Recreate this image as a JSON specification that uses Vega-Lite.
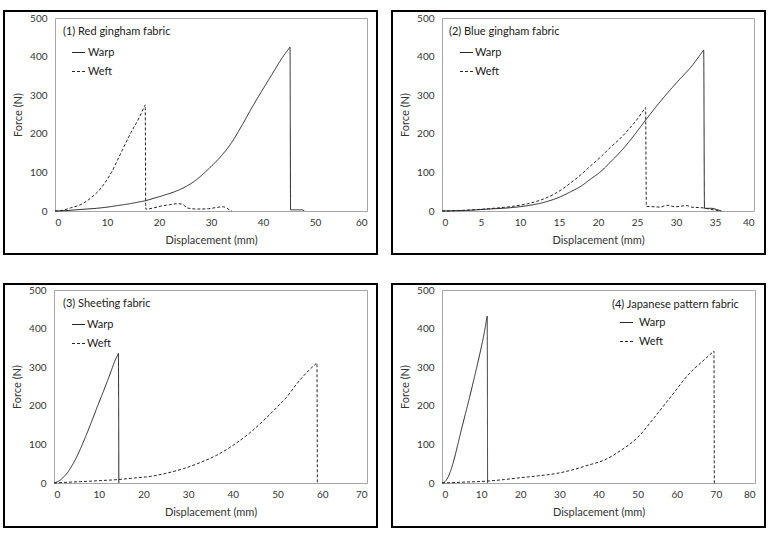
{
  "$schema": "https://vega.github.io/schema/vega-lite/v6.json",
  "background": "white",
  "padding": {"left": 3, "top": 10, "right": 0, "bottom": 0},
  "bounds": "flush",
  "columns": 2,
  "spacing": {"row": 30, "column": 15},
  "resolve": {"scale": {"strokeDash": "independent"}, "legend": {"strokeDash": "independent"}},
  "config": {
    "font": "Lato",
    "view": {"stroke": "#000000", "strokeWidth": 2},
    "axis": {"grid": false, "ticks": false, "domainColor": "#a6a6a6", "domainWidth": 1, "labelFont": "Lato", "labelFontSize": 10, "labelColor": "#333333", "titleFont": "Lato", "titleFontSize": 11, "titleFontWeight": "normal", "titleColor": "#333333"},
    "legend": {"padding": 0, "direction": "vertical", "titleFont": "Lato", "titleFontSize": 11, "titleFontWeight": "normal", "titleColor": "#1a1a1a", "labelFont": "Lato", "labelFontSize": 11, "labelColor": "#1a1a1a", "symbolType": "stroke", "symbolSize": 169, "symbolStrokeWidth": 1.2, "symbolStrokeColor": "#262626", "rowPadding": 6, "titlePadding": 8, "titleLimit": 300}
  },
  "datasets": {
    "p1": [
      {"series": "Warp", "x": 0, "y": 0}, {"series": "Warp", "x": 2, "y": 1}, {"series": "Warp", "x": 4, "y": 3}, {"series": "Warp", "x": 6, "y": 5}, {"series": "Warp", "x": 8, "y": 7}, {"series": "Warp", "x": 10, "y": 10}, {"series": "Warp", "x": 12, "y": 14}, {"series": "Warp", "x": 14, "y": 18}, {"series": "Warp", "x": 16, "y": 23}, {"series": "Warp", "x": 17.5, "y": 27}, {"series": "Warp", "x": 19, "y": 33}, {"series": "Warp", "x": 21, "y": 41}, {"series": "Warp", "x": 23, "y": 50}, {"series": "Warp", "x": 25, "y": 62}, {"series": "Warp", "x": 27, "y": 79}, {"series": "Warp", "x": 28.5, "y": 96}, {"series": "Warp", "x": 30, "y": 115}, {"series": "Warp", "x": 32, "y": 143}, {"series": "Warp", "x": 34, "y": 178}, {"series": "Warp", "x": 36, "y": 223}, {"series": "Warp", "x": 38, "y": 271}, {"series": "Warp", "x": 40, "y": 316}, {"series": "Warp", "x": 42, "y": 360}, {"series": "Warp", "x": 44, "y": 403}, {"series": "Warp", "x": 45, "y": 421}, {"series": "Warp", "x": 45.2, "y": 425}, {"series": "Warp", "x": 45.3, "y": 3}, {"series": "Warp", "x": 46.5, "y": 3}, {"series": "Warp", "x": 47.7, "y": 3}, {"series": "Warp", "x": 47.9, "y": 0},
      {"series": "Weft", "x": 0, "y": 0}, {"series": "Weft", "x": 1.5, "y": 2}, {"series": "Weft", "x": 3, "y": 8}, {"series": "Weft", "x": 5, "y": 17}, {"series": "Weft", "x": 7, "y": 35}, {"series": "Weft", "x": 9, "y": 62}, {"series": "Weft", "x": 10.8, "y": 99}, {"series": "Weft", "x": 12.7, "y": 151}, {"series": "Weft", "x": 14.6, "y": 203}, {"series": "Weft", "x": 16.2, "y": 242}, {"series": "Weft", "x": 17.2, "y": 271}, {"series": "Weft", "x": 17.35, "y": 275}, {"series": "Weft", "x": 17.45, "y": 5}, {"series": "Weft", "x": 19, "y": 8}, {"series": "Weft", "x": 20.4, "y": 13}, {"series": "Weft", "x": 22, "y": 16}, {"series": "Weft", "x": 23.6, "y": 19}, {"series": "Weft", "x": 24.6, "y": 17}, {"series": "Weft", "x": 25.4, "y": 8}, {"series": "Weft", "x": 27.4, "y": 5}, {"series": "Weft", "x": 29.5, "y": 6}, {"series": "Weft", "x": 31, "y": 9}, {"series": "Weft", "x": 32.2, "y": 11}, {"series": "Weft", "x": 33, "y": 8}, {"series": "Weft", "x": 33.5, "y": 3}, {"series": "Weft", "x": 34, "y": 0}
    ],
    "p2": [
      {"series": "Warp", "x": 0, "y": 0}, {"series": "Warp", "x": 3, "y": 1.5}, {"series": "Warp", "x": 6, "y": 5}, {"series": "Warp", "x": 9, "y": 9}, {"series": "Warp", "x": 11, "y": 14}, {"series": "Warp", "x": 13, "y": 22}, {"series": "Warp", "x": 14.3, "y": 30}, {"series": "Warp", "x": 15.3, "y": 38}, {"series": "Warp", "x": 16.5, "y": 50}, {"series": "Warp", "x": 17.8, "y": 64}, {"series": "Warp", "x": 19, "y": 82}, {"series": "Warp", "x": 20.4, "y": 103}, {"series": "Warp", "x": 21.6, "y": 127}, {"series": "Warp", "x": 22.9, "y": 154}, {"series": "Warp", "x": 24, "y": 180}, {"series": "Warp", "x": 25, "y": 206}, {"series": "Warp", "x": 26.2, "y": 238}, {"series": "Warp", "x": 28, "y": 284}, {"series": "Warp", "x": 30.1, "y": 333}, {"series": "Warp", "x": 32.2, "y": 380}, {"series": "Warp", "x": 33.4, "y": 413}, {"series": "Warp", "x": 33.55, "y": 417}, {"series": "Warp", "x": 33.65, "y": 7}, {"series": "Warp", "x": 34.5, "y": 7}, {"series": "Warp", "x": 35.2, "y": 4}, {"series": "Warp", "x": 35.8, "y": 0},
      {"series": "Weft", "x": 0, "y": 0}, {"series": "Weft", "x": 3, "y": 2}, {"series": "Weft", "x": 6, "y": 6}, {"series": "Weft", "x": 9, "y": 12}, {"series": "Weft", "x": 11, "y": 19}, {"series": "Weft", "x": 13, "y": 31}, {"series": "Weft", "x": 14.3, "y": 43}, {"series": "Weft", "x": 15.3, "y": 55}, {"series": "Weft", "x": 16.5, "y": 73}, {"series": "Weft", "x": 17.8, "y": 94}, {"series": "Weft", "x": 19, "y": 116}, {"series": "Weft", "x": 20.4, "y": 141}, {"series": "Weft", "x": 21.6, "y": 165}, {"series": "Weft", "x": 22.9, "y": 189}, {"series": "Weft", "x": 24, "y": 213}, {"series": "Weft", "x": 25, "y": 237}, {"series": "Weft", "x": 25.95, "y": 264}, {"series": "Weft", "x": 26.1, "y": 268}, {"series": "Weft", "x": 26.2, "y": 12}, {"series": "Weft", "x": 27.2, "y": 11}, {"series": "Weft", "x": 28, "y": 10}, {"series": "Weft", "x": 28.8, "y": 15}, {"series": "Weft", "x": 29.9, "y": 11}, {"series": "Weft", "x": 31.4, "y": 14}, {"series": "Weft", "x": 32, "y": 10}, {"series": "Weft", "x": 33.5, "y": 8}, {"series": "Weft", "x": 34.5, "y": 4}, {"series": "Weft", "x": 35.8, "y": 0}
    ],
    "p3": [
      {"series": "Warp", "x": 0, "y": 0}, {"series": "Warp", "x": 0.7, "y": 3}, {"series": "Warp", "x": 1.34, "y": 7}, {"series": "Warp", "x": 2, "y": 14}, {"series": "Warp", "x": 2.83, "y": 24}, {"series": "Warp", "x": 3.5, "y": 35}, {"series": "Warp", "x": 4.32, "y": 51}, {"series": "Warp", "x": 5.5, "y": 78}, {"series": "Warp", "x": 6.56, "y": 106}, {"series": "Warp", "x": 7.7, "y": 138}, {"series": "Warp", "x": 8.8, "y": 171}, {"series": "Warp", "x": 9.9, "y": 204}, {"series": "Warp", "x": 11, "y": 236}, {"series": "Warp", "x": 12, "y": 266}, {"series": "Warp", "x": 12.9, "y": 294}, {"series": "Warp", "x": 13.6, "y": 316}, {"series": "Warp", "x": 14.25, "y": 332}, {"series": "Warp", "x": 14.4, "y": 336}, {"series": "Warp", "x": 14.5, "y": 0},
      {"series": "Weft", "x": 0, "y": 0}, {"series": "Weft", "x": 3, "y": 2}, {"series": "Weft", "x": 6, "y": 3.5}, {"series": "Weft", "x": 10, "y": 6}, {"series": "Weft", "x": 14.4, "y": 9}, {"series": "Weft", "x": 18, "y": 13}, {"series": "Weft", "x": 21.5, "y": 17}, {"series": "Weft", "x": 25, "y": 25}, {"series": "Weft", "x": 28.9, "y": 37}, {"series": "Weft", "x": 32.7, "y": 53}, {"series": "Weft", "x": 36.4, "y": 72}, {"series": "Weft", "x": 40.1, "y": 98}, {"series": "Weft", "x": 43.8, "y": 130}, {"series": "Weft", "x": 47.6, "y": 170}, {"series": "Weft", "x": 50, "y": 198}, {"series": "Weft", "x": 52, "y": 222}, {"series": "Weft", "x": 54.3, "y": 257}, {"series": "Weft", "x": 56.5, "y": 286}, {"series": "Weft", "x": 58.65, "y": 309.5}, {"series": "Weft", "x": 58.8, "y": 311}, {"series": "Weft", "x": 58.9, "y": 0}
    ],
    "p4": [
      {"series": "Warp", "x": 0, "y": 0}, {"series": "Warp", "x": 0.8, "y": 4}, {"series": "Warp", "x": 1.53, "y": 15}, {"series": "Warp", "x": 2.39, "y": 37}, {"series": "Warp", "x": 3.24, "y": 67}, {"series": "Warp", "x": 4.09, "y": 102}, {"series": "Warp", "x": 5, "y": 140}, {"series": "Warp", "x": 6, "y": 180}, {"series": "Warp", "x": 7, "y": 220}, {"series": "Warp", "x": 8, "y": 262}, {"series": "Warp", "x": 9, "y": 305}, {"series": "Warp", "x": 10, "y": 350}, {"series": "Warp", "x": 11, "y": 400}, {"series": "Warp", "x": 11.45, "y": 427}, {"series": "Warp", "x": 11.55, "y": 432}, {"series": "Warp", "x": 11.65, "y": 0},
      {"series": "Weft", "x": 0, "y": 0}, {"series": "Weft", "x": 5, "y": 2}, {"series": "Weft", "x": 11.6, "y": 5}, {"series": "Weft", "x": 16, "y": 9}, {"series": "Weft", "x": 20.3, "y": 14}, {"series": "Weft", "x": 25, "y": 19}, {"series": "Weft", "x": 28.8, "y": 24}, {"series": "Weft", "x": 33, "y": 33}, {"series": "Weft", "x": 37.3, "y": 46}, {"series": "Weft", "x": 41.6, "y": 60}, {"series": "Weft", "x": 45.8, "y": 85}, {"series": "Weft", "x": 50, "y": 118}, {"series": "Weft", "x": 54.3, "y": 170}, {"series": "Weft", "x": 58.6, "y": 225}, {"series": "Weft", "x": 62.9, "y": 280}, {"series": "Weft", "x": 67.1, "y": 320}, {"series": "Weft", "x": 69.35, "y": 340.6}, {"series": "Weft", "x": 69.5, "y": 342}, {"series": "Weft", "x": 69.6, "y": 0}
    ]
  },
  "concat": [
    {
      "width": 373, "height": 243,
      "data": {"name": "p1"},
      "resolve": {"axis": {"x": "independent", "y": "independent"}},
      "layer": [
        {
          "mark": {"type": "line", "interpolate": "monotone", "strokeWidth": 1, "color": "#262626"},
          "encoding": {
            "x": {"field": "x", "type": "quantitative", "scale": {"domain": [0, 60], "range": [51, 363], "nice": false, "zero": false}, "axis": {"orient": "bottom", "offset": -43, "values": [0, 10, 20, 30, 40, 50, 60], "labelPadding": 6, "title": "Displacement (mm)", "titlePadding": 7}},
            "y": {"field": "y", "type": "quantitative", "scale": {"domain": [0, 500], "range": [200, 7], "nice": false}, "axis": {"orient": "left", "offset": -51, "values": [0, 100, 200, 300, 400, 500], "labelPadding": 8, "title": "Force (N)", "titlePadding": 6}},
            "strokeDash": {"field": "series", "type": "nominal", "scale": {"domain": ["Warp", "Weft"], "range": [[1, 0], [3, 2]]}, "legend": {"orient": "none", "legendX": 59, "legendY": 15, "title": "(1) Red gingham fabric", "symbolOffset": 8, "labelOffset": 2}}
          }
        },
        {
          "mark": {"type": "point", "opacity": 0},
          "encoding": {
            "x": {"field": "x", "type": "quantitative", "axis": {"orient": "top", "offset": -7, "labels": false, "title": null}},
            "y": {"field": "y", "type": "quantitative", "axis": {"orient": "right", "offset": -10, "labels": false, "title": null}}
          }
        }
      ]
    },
    {
      "width": 373, "height": 243,
      "data": {"name": "p2"},
      "resolve": {"axis": {"x": "independent", "y": "independent"}},
      "layer": [
        {
          "mark": {"type": "line", "interpolate": "monotone", "strokeWidth": 1, "color": "#262626"},
          "encoding": {
            "x": {"field": "x", "type": "quantitative", "scale": {"domain": [0, 40], "range": [50, 362], "nice": false, "zero": false}, "axis": {"orient": "bottom", "offset": -43, "values": [0, 5, 10, 15, 20, 25, 30, 35, 40], "labelPadding": 6, "title": "Displacement (mm)", "titlePadding": 7}},
            "y": {"field": "y", "type": "quantitative", "scale": {"domain": [0, 500], "range": [200, 7], "nice": false}, "axis": {"orient": "left", "offset": -50, "values": [0, 100, 200, 300, 400, 500], "labelPadding": 8, "title": "Force (N)", "titlePadding": 6}},
            "strokeDash": {"field": "series", "type": "nominal", "scale": {"domain": ["Warp", "Weft"], "range": [[1, 0], [3, 2]]}, "legend": {"orient": "none", "legendX": 57, "legendY": 15, "title": "(2) Blue gingham fabric", "symbolOffset": 10, "labelOffset": 1}}
          }
        },
        {
          "mark": {"type": "point", "opacity": 0},
          "encoding": {
            "x": {"field": "x", "type": "quantitative", "axis": {"orient": "top", "offset": -7, "labels": false, "title": null}},
            "y": {"field": "y", "type": "quantitative", "axis": {"orient": "right", "offset": -11, "labels": false, "title": null}}
          }
        }
      ]
    },
    {
      "width": 373, "height": 243,
      "data": {"name": "p3"},
      "resolve": {"axis": {"x": "independent", "y": "independent"}},
      "layer": [
        {
          "mark": {"type": "line", "interpolate": "monotone", "strokeWidth": 1, "color": "#262626"},
          "encoding": {
            "x": {"field": "x", "type": "quantitative", "scale": {"domain": [0, 70], "range": [50, 363], "nice": false, "zero": false}, "axis": {"orient": "bottom", "offset": -44, "values": [0, 10, 20, 30, 40, 50, 60, 70], "labelPadding": 6, "title": "Displacement (mm)", "titlePadding": 7}},
            "y": {"field": "y", "type": "quantitative", "scale": {"domain": [0, 500], "range": [199, 6], "nice": false}, "axis": {"orient": "left", "offset": -50, "values": [0, 100, 200, 300, 400, 500], "labelPadding": 8, "title": "Force (N)", "titlePadding": 6}},
            "strokeDash": {"field": "series", "type": "nominal", "scale": {"domain": ["Warp", "Weft"], "range": [[1, 0], [3, 2]]}, "legend": {"orient": "none", "legendX": 59, "legendY": 14, "title": "(3) Sheeting fabric", "symbolOffset": 8, "labelOffset": 1}}
          }
        },
        {
          "mark": {"type": "point", "opacity": 0},
          "encoding": {
            "x": {"field": "x", "type": "quantitative", "axis": {"orient": "top", "offset": -6, "labels": false, "title": null}},
            "y": {"field": "y", "type": "quantitative", "axis": {"orient": "right", "offset": -10, "labels": false, "title": null}}
          }
        }
      ]
    },
    {
      "width": 373, "height": 243,
      "data": {"name": "p4"},
      "resolve": {"axis": {"x": "independent", "y": "independent"}},
      "layer": [
        {
          "mark": {"type": "line", "interpolate": "monotone", "strokeWidth": 1, "color": "#262626"},
          "encoding": {
            "x": {"field": "x", "type": "quantitative", "scale": {"domain": [0, 80], "range": [50, 363], "nice": false, "zero": false}, "axis": {"orient": "bottom", "offset": -44, "values": [0, 10, 20, 30, 40, 50, 60, 70, 80], "labelPadding": 6, "title": "Displacement (mm)", "titlePadding": 7}},
            "y": {"field": "y", "type": "quantitative", "scale": {"domain": [0, 500], "range": [199, 6], "nice": false}, "axis": {"orient": "left", "offset": -50, "values": [0, 100, 200, 300, 400, 500], "labelPadding": 8, "title": "Force (N)", "titlePadding": 6}},
            "strokeDash": {"field": "series", "type": "nominal", "scale": {"domain": ["Warp", "Weft"], "range": [[1, 0], [3, 2]]}, "legend": {"orient": "none", "legendX": 220, "legendY": 15, "title": "(4) Japanese pattern fabric", "titlePadding": 5, "symbolOffset": 7, "labelOffset": 5}}
          }
        },
        {
          "mark": {"type": "point", "opacity": 0},
          "encoding": {
            "x": {"field": "x", "type": "quantitative", "axis": {"orient": "top", "offset": -6, "labels": false, "title": null}},
            "y": {"field": "y", "type": "quantitative", "axis": {"orient": "right", "offset": -10, "labels": false, "title": null}}
          }
        }
      ]
    }
  ]
}
